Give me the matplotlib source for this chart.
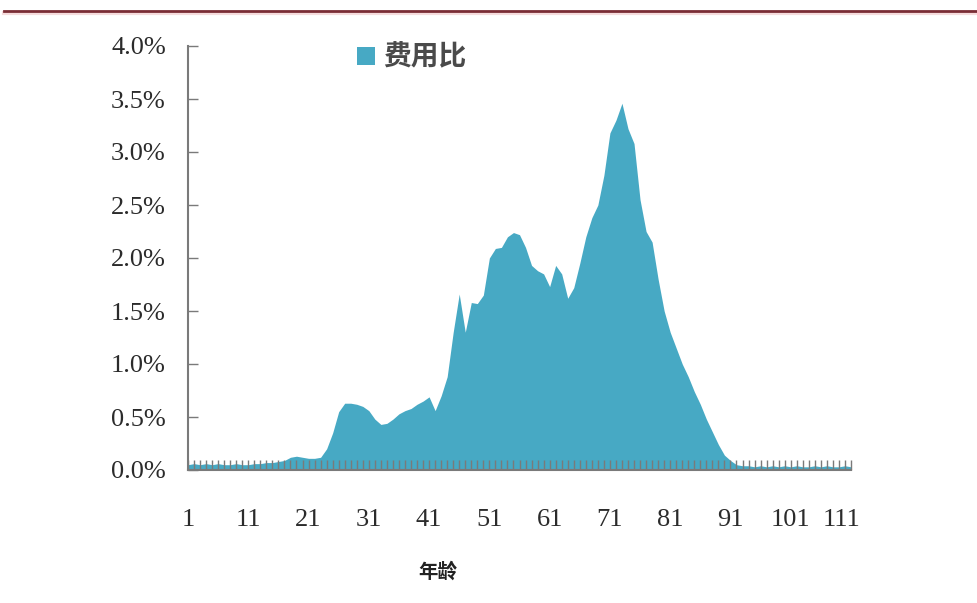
import matplotlib.pyplot as plt
from matplotlib.lines import Line2D
from matplotlib.patches import Rectangle
from matplotlib.ticker import FuncFormatter
from matplotlib.transforms import ScaledTranslation

# 年龄 1..111 与各年龄费用占比（%）
ages = list(range(1, 112))
ratio = [
    0.05, 0.06, 0.05, 0.06, 0.05, 0.06, 0.05, 0.05, 0.06, 0.05,   # 1-10
    0.05, 0.06, 0.06, 0.07, 0.07, 0.08, 0.09, 0.12, 0.13, 0.12,   # 11-20
    0.11, 0.11, 0.12, 0.20, 0.35, 0.55, 0.63, 0.63, 0.62, 0.60,   # 21-30
    0.56, 0.48, 0.43, 0.44, 0.48, 0.53, 0.56, 0.58, 0.62, 0.65,   # 31-40
    0.69, 0.56, 0.70, 0.88, 1.30, 1.66, 1.30, 1.58, 1.57, 1.65,   # 41-50
    2.00, 2.09, 2.10, 2.20, 2.24, 2.22, 2.10, 1.93, 1.88, 1.85,   # 51-60
    1.73, 1.93, 1.85, 1.62, 1.72, 1.95, 2.20, 2.38, 2.50, 2.78,   # 61-70
    3.18, 3.30, 3.46, 3.22, 3.08, 2.55, 2.25, 2.15, 1.80, 1.50,   # 71-80
    1.30, 1.15, 1.00, 0.88, 0.74, 0.62, 0.48, 0.36, 0.24, 0.14,   # 81-90
    0.09, 0.05, 0.04, 0.04, 0.03, 0.04, 0.03, 0.04, 0.03, 0.04,   # 91-100
    0.03, 0.04, 0.03, 0.03, 0.04, 0.03, 0.04, 0.03, 0.03, 0.04,   # 101-110
    0.03,                                                         # 111
]
x_labels = list(range(1, 112, 10))
y_ticks = [0.0, 0.5, 1.0, 1.5, 2.0, 2.5, 3.0, 3.5, 4.0]
series_name = "费用比"
x_title = "年龄"

fill_color = "#47a9c4"
axis_color = "#7a7a7a"
text_color = "#2b2b2b"
serif = ["Liberation Serif", "DejaVu Serif"]
cjk = ["Noto Sans CJK SC", "DejaVu Sans"]

W, H = 977, 603
fig = plt.figure(figsize=(W / 100, H / 100), dpi=100)
fig.patch.set_facecolor("white")

# axes box in pixel terms: y axis at x=188, x axis at y=470, top at y=46
left, right, top, bottom = 188, 851, 46, 470
ax = fig.add_axes([left / W, 1 - bottom / H, (right - left) / W, (bottom - top) / H])

ax.fill_between(ages, ratio, 0, color=fill_color, linewidth=0, zorder=1)

ax.set_xlim(1, 111)
ax.set_ylim(0, 4.0)

# one small tick per age, labels every ten years
ax.set_xticks(ages, minor=True)
ax.set_xticks(x_labels)
ax.set_xticklabels([str(v) for v in x_labels], family=serif, fontsize=19, color=text_color)
ax.tick_params(axis="x", which="both", direction="in", length=7, width=1.0,
               color=axis_color, pad=28)

# last label sits a little inside the axis end
last = ax.get_xticklabels()[-1]
last.set_transform(last.get_transform() + ScaledTranslation(-7 / 72, 0, fig.dpi_scale_trans))

ax.set_yticks(y_ticks)
ax.yaxis.set_major_formatter(FuncFormatter(lambda v, p: "%.1f%%" % v))
for lab in ax.get_yticklabels():
    lab.set_family(serif)
    lab.set_fontsize(19)
    lab.set_color(text_color)
ax.tick_params(axis="y", direction="in", length=7, width=1.0, color=axis_color, pad=16)

for side in ["top", "right"]:
    ax.spines[side].set_visible(False)
for side in ["left", "bottom"]:
    ax.spines[side].set_color(axis_color)
    ax.spines[side].set_linewidth(1.5)
    ax.spines[side].set_zorder(3)
ax.set_axisbelow(False)

# legend: colour square plus series name
fig.add_artist(Rectangle((357 / W, 1 - 65 / H), 18 / W, 18 / H,
                         transform=fig.transFigure, facecolor=fill_color, edgecolor="none"))
fig.text(383 / W, 1 - 57 / H, series_name, family=cjk, fontsize=20, fontweight="bold",
         color="#4a4a4a", va="center", ha="left")

fig.text(438 / W, 1 - 572 / H, x_title, family=cjk, fontsize=14, fontweight="bold",
         color="#222222", ha="center", va="center")

# header rule across the top
fig.add_artist(Line2D([4 / W, 1], [1 - 13 / H, 1 - 13 / H], transform=fig.transFigure,
                      color="#f6dcdd", linewidth=3))
fig.add_artist(Line2D([4 / W, 1], [1 - 10.5 / H, 1 - 10.5 / H], transform=fig.transFigure,
                      color="#7a2d35", linewidth=2))

fig.savefig("out.png", dpi=100, facecolor="white")
